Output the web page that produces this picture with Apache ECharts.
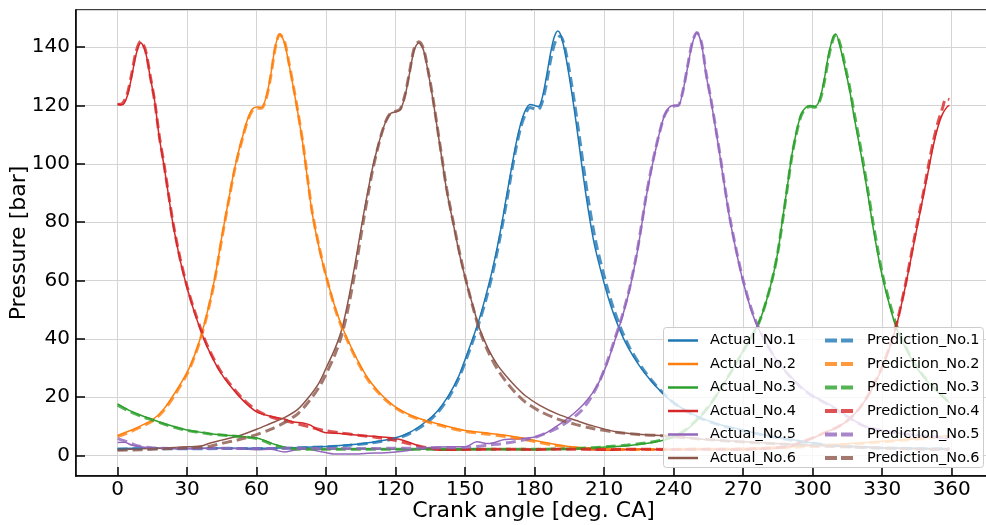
<!DOCTYPE html>
<html><head><meta charset="utf-8">
<script src="https://cdn.jsdelivr.net/npm/echarts@6/dist/echarts.min.js"></script>
<style>html,body{margin:0;padding:0;background:#fff}#c{width:986px;height:525px}</style>
</head><body><div id="c"></div>
<script>
const xTicks = [0,30,60,90,120,150,180,210,240,270,300,330,360];
const yTicks = [0,20,40,60,80,100,120,140];
const actualNames = ['Actual_No.1','Actual_No.2','Actual_No.3','Actual_No.4','Actual_No.5','Actual_No.6'];
const predNames = ['Prediction_No.1','Prediction_No.2','Prediction_No.3','Prediction_No.4','Prediction_No.5','Prediction_No.6'];
const colors = ['#1f77b4','#ff7f0e','#2ca02c','#d62728','#9467bd','#8c564b'];

const actualNo1 = [[0,2.4],[15,2.5],[30,2.4],[45,2.6],[60,2.5],[75,2.7],[90,3.1],[100,3.7],[110,4.6],[120,6.1],[126,7.9],[133,11.6],[138,15.2],[143,20.8],[147,26.8],[150,33],[153,39.5],[156,46.5],[159,55],[162,64.5],[165,76],[168,89.5],[170,98.5],[172,107],[174,113.8],[176,118.3],[178,120.3],[180,120],[181.5,119.6],[183,121.8],[185,129.5],[187,138.5],[188.5,143.5],[190,145.5],[191.5,143.5],[193.5,136.5],[196,124.5],[198,113.5],[200,101.5],[202,90],[204,80],[206,71.5],[210,59],[213,51],[216.5,43.5],[220,37.5],[225,31],[230,25.8],[235,21.5],[240,18],[250,13.5],[260,10.6],[270,8.7],[280,7],[290,5.6],[300,4.3],[310,3.5],[320,3],[330,2.7],[345,2.5],[359,2.4]];
const predNo1 = [[0,2.2],[15,2.4],[30,2.3],[45,2.4],[60,2.4],[75,2.6],[90,3],[100,3.5],[110,4.4],[120,5.8],[126,7.5],[133,11],[138,14.6],[143,20],[147,26],[150,32],[153,38.5],[156,45.5],[159,53.5],[162,63],[165,74.5],[168,87.5],[170,97],[172,105.5],[174,112.5],[176,117],[178,119.3],[180,118.8],[181.5,118.6],[183,120.5],[185,127],[187,136],[189,142],[191,143.8],[192.5,141.5],[194.5,134],[197,122],[199,111],[201,99.5],[203,88.5],[205,79],[207,71],[211,58.5],[214,50.5],[217.5,43],[221,37],[226,30.5],[231,25.3],[236,21],[241,17.5],[250,13.3],[260,10.4],[270,8.5],[280,6.8],[290,5.4],[300,4.2],[310,3.4],[320,2.9],[330,2.6],[345,2.4],[359,2.3]];

const actualNo2 = [[0,6.9],[5,8.4],[10,10.2],[15,12.2],[20,16],[25,21.8],[30,28.5],[33,34],[36,41],[39,50],[42,61],[45,75],[48,88],[50,96.5],[52,103.5],[54,109.5],[56,115],[58,118.6],[60,119.5],[62,119.3],[64,122.5],[66,130],[68,140],[70,144.4],[72,141.5],[74,134],[76,125.5],[78,116.5],[80,106.5],[82,94.5],[84,83],[87,71],[90,61.5],[94,50.5],[97,44],[100,38.5],[104,32],[108,26.5],[112,22.5],[116,19.2],[120,16.6],[126,14],[133,12],[140,10.5],[150,8.6],[160,7.7],[168,6.9],[175,6],[180,5.2],[188,4],[196,3],[204,2.4],[215,2.2],[230,2.1],[245,2.3],[260,2.2],[275,2.5],[290,3],[305,3.6],[320,4.3],[335,5.2],[350,6.2],[359,6.9]];
const predNo2 = [[0,6.5],[5,8],[10,9.8],[15,11.8],[20,15.5],[25,21.2],[30,28],[33,33.5],[36,40.5],[39,49.5],[42,60.5],[45,74.5],[48,87.5],[50,96],[52,103],[54,109],[56,114.5],[58,118],[60,119],[62,119],[64,122],[66,129.5],[68,139.5],[70,144.4],[72,142],[74,134.5],[76,126],[78,117],[80,107],[82,95],[84,83.5],[87,71.5],[90,61.5],[94,50],[97,43.5],[100,38],[104,31.5],[108,26],[112,22],[116,18.8],[120,16.3],[126,13.7],[133,11.7],[140,10.2],[150,8.3],[160,7.3],[168,6.5],[175,5.6],[180,4.8],[188,3.6],[196,2.8],[204,2.3],[215,2.1],[230,2.1],[245,2.2],[260,2.2],[275,2.4],[290,2.8],[305,3.4],[320,4.1],[335,5],[350,6],[359,6.6]];

const actualNo3 = [[0,17.7],[5,15.5],[10,13.8],[15,12.4],[20,11],[25,9.8],[30,8.8],[35,8.1],[40,7.5],[47,7],[54,6.5],[60,6],[64,5],[68,3.8],[72,2.9],[76,2.4],[80,2.2],[90,2.2],[105,2.3],[120,2.2],[135,2.2],[150,2.3],[165,2.2],[180,2.2],[195,2.3],[205,2.6],[212,3],[220,3.4],[228,4.1],[234,5],[240,6.3],[245,8.5],[250,12],[255,16.5],[260,22.4],[265,29],[270,36],[274,41.5],[277,46],[280,53],[283,62],[285,70],[287,81],[289,92],[291,103],[293,111],[295,117],[297,119.3],[299,120],[301,119.6],[303,122],[305,129],[307,138],[309,143.8],[310,144.4],[312,139.5],[314,132.5],[316,125],[318,115.5],[320,107],[322,98],[324,88.5],[326,78.5],[328,69.5],[330,61.5],[333,52],[336,44],[340,37],[345,30],[350,25],[355,21],[359,18]];
const predNo3 = [[0,17.3],[5,15.2],[10,13.5],[15,12.2],[20,10.8],[25,9.6],[30,8.6],[35,8],[40,7.4],[47,6.9],[54,6.4],[60,5.8],[64,4.7],[68,3.5],[72,2.7],[76,2.3],[80,2.2],[90,2.2],[105,2.2],[120,2.2],[135,2.2],[150,2.2],[165,2.2],[180,2.2],[195,2.3],[205,2.7],[212,3.1],[220,3.6],[228,4.3],[234,5.2],[240,6.6],[245,8.8],[250,12.3],[255,16.8],[260,22.6],[265,29],[270,35.8],[274,41.3],[277,46],[280,53],[283,62],[285,70],[287,80.5],[289,91.5],[291,102.5],[293,110.5],[295,116.5],[297,119],[299,119.6],[301,119.4],[303,121.5],[305,128],[307,137],[309,143.3],[310,144.2],[312,140.5],[314,133.5],[316,126],[318,117],[320,108.5],[322,99.5],[324,90],[326,80],[328,71],[330,62.5],[333,53],[336,45],[340,37.5],[345,30.3],[350,25.2],[355,21.2],[359,18.2]];

const actualNo4 = [[0,120.5],[2,120.2],[4,122.8],[6,129.5],[8,137.5],[10,141.5],[12,138.5],[14,130],[16,121.5],[18,109],[20,99.5],[22,89],[24,79],[27,67],[30,57.5],[33,49.5],[37,40.5],[40,35],[44,29],[48,24.5],[54,19],[60,15],[66,13.5],[72,12.5],[76,11.5],[80,11.2],[83,10.5],[86,9],[90,7.8],[96,7.6],[104,7],[112,6.5],[119,6],[126,4.5],[133,2.5],[140,1.8],[150,2],[165,2.2],[180,2],[195,2.3],[210,1.8],[225,2.2],[240,2],[255,2.2],[270,2],[280,2.3],[290,3],[295,4.5],[300,6],[305,7.8],[310,9.5],[315,12],[320,16],[325,22],[330,30],[333,36.5],[336,44],[340,58],[344,74],[348,90],[350,98],[352,106],[354,112.5],[356,117],[358,119.5],[359,120]];
const predNo4 = [[0,120.3],[2,120.6],[4,123.5],[6,130.5],[8,138.5],[10,142],[12,139],[14,130.5],[16,121.5],[18,109.5],[20,100],[22,89.5],[24,79.5],[27,67.5],[30,58],[33,50],[37,41],[40,35.5],[44,29.5],[48,25],[54,19.5],[60,15.5],[66,13.3],[72,12],[78,10.8],[84,9.6],[90,8.5],[96,7.8],[104,7],[112,6.2],[119,5.3],[126,4],[133,2.8],[140,2.1],[150,2.1],[165,2.2],[180,2.1],[195,2.2],[210,2.1],[225,2.2],[240,2.1],[255,2.2],[270,2.2],[280,2.5],[290,3.2],[295,4.6],[300,6.1],[305,7.8],[310,9.5],[315,12],[320,16],[325,22.2],[330,30.5],[333,37],[336,44.5],[340,58.5],[344,75],[348,91],[350,99.5],[352,107.5],[354,114],[356,119],[357.5,122.3],[359,122]];

const actualNo5 = [[0,4.5],[3,4.6],[6,3.6],[10,3],[15,2.6],[20,2.5],[30,2.3],[40,2.5],[50,2.4],[60,2],[66,2.2],[72,1.2],[76,1.8],[81,2.4],[87,1.5],[94,0.5],[101,0.5],[108,0.8],[114,0.9],[120,1.2],[126,1.8],[131,2.4],[138,2.9],[144,3],[150,3],[155,4.7],[160,4.1],[167,5.5],[174,5.8],[180,6.4],[185,7.8],[189,9.8],[193,12],[197,14.5],[201,17.5],[205,21.5],[208,25.5],[211,31],[214,38],[218,48],[221,57],[224,68.5],[226,78],[228,88],[230,96.5],[232,104],[234,111],[236,116.5],[238,119.3],[240,120],[242,120],[244,125],[246,133],[248,141],[250,145],[252,141],[254,130.5],[256,122],[258,112.5],[260,102.5],[262,92],[264,82],[267,70],[270,59.5],[273,51],[276,44.5],[280,38.5],[285,32],[290,27.5],[295,23.5],[300,20.5],[307,17.6],[315,13.5],[322,10.2],[330,8.6],[340,7.4],[350,6.5],[359,5.8]];
const predNo5 = [[0,5.8],[4,4.8],[8,3.5],[15,2.7],[30,2.4],[45,2.5],[60,2.4],[75,2.5],[90,2.4],[105,2.4],[120,2.5],[135,2.6],[145,2.7],[150,2.8],[155,3.1],[160,3.6],[165,4],[170,4.6],[175,5.3],[180,6.2],[185,7.7],[190,9.5],[195,12],[200,15.3],[204,19.5],[208,25.5],[211,31.5],[214,38.5],[218,48.5],[221,57.5],[224,69],[226,78.5],[228,88.5],[230,97],[232,104.5],[234,111],[236,116.5],[238,119],[240,119.8],[242,120],[244,125],[246,133.5],[248,141.5],[250,145],[252,141.5],[254,131],[256,122.5],[258,113],[260,103],[262,92.5],[264,82.5],[267,70.5],[270,60],[273,51.5],[276,45],[280,38.5],[285,32],[290,27.3],[295,23.3],[300,20.3],[307,17.3],[315,13.3],[322,10.2],[330,8.6],[340,7.4],[350,6.6],[359,6]];

const actualNo6 = [[0,2],[10,2.3],[20,2.6],[30,3],[36,3.3],[40,4.3],[45,5.3],[50,6.3],[55,7.5],[60,9],[66,11],[72,13],[78,16],[83,20.5],[87,25],[90,30],[94,37],[97,44],[100,55],[103,68],[106,82],[108,90.5],[110,98.5],[112,105],[114,110.5],[116,115],[118,117.3],[120,117.8],[122,118.5],[124,123],[126,131],[128,139],[130,141.5],[132,139],[134,131.5],[136,122.5],[138,112],[140,101.5],[142,91],[145,79],[148,67.5],[151,58],[154,49.5],[156,44],[160,36.5],[164,31],[168,27],[172,23.5],[176,20.5],[182,17.3],[190,14.2],[198,12],[205,10.2],[215,8.2],[225,7.3],[235,6.9],[250,5.8],[265,5],[280,4.3],[300,3.5],[320,2.9],[340,2.4],[359,2.1]];
const predNo6 = [[0,1.8],[10,2],[20,2.3],[30,2.7],[36,2.9],[40,3.2],[45,4.2],[50,5],[55,6],[60,7.2],[66,9],[72,11.3],[78,14.5],[83,19],[87,23.5],[90,28],[94,35],[97,42],[100,52.5],[103,65.5],[106,80],[108,89],[110,97.5],[112,104.5],[114,110.5],[116,115],[118,117.5],[120,118],[122,118.8],[124,123.5],[126,131.5],[128,139.5],[130,141.8],[132,139.5],[134,132],[136,123],[138,112.5],[140,102],[142,91.5],[145,79.5],[148,68],[151,58],[154,49],[156,43.5],[160,35.5],[164,29.5],[168,25],[172,21.3],[176,18.3],[182,15.3],[190,12.5],[198,10.6],[205,9.3],[215,8],[225,7.2],[235,6.8],[250,5.8],[265,4.9],[280,4.2],[300,3.4],[320,2.8],[340,2.3],[359,2]];

const actuals = [actualNo1, actualNo2, actualNo3, actualNo4, actualNo5, actualNo6];
const preds = [predNo1, predNo2, predNo3, predNo4, predNo5, predNo6];

const FONT = 'DejaVu Sans';
const chart = echarts.init(document.getElementById('c'), null, {renderer: 'canvas'});

const series = [];
actuals.forEach((d, i) => series.push({
  name: actualNames[i], type: 'line', data: d, symbol: 'none', showSymbol: false,
  smooth: 0.3, silent: true, z: 2, animation: false,
  lineStyle: {color: colors[i], width: 1.5}, itemStyle: {color: colors[i]}
}));
preds.forEach((d, i) => series.push({
  name: predNames[i], type: 'line', data: d, symbol: 'none', showSymbol: false,
  smooth: 0.3, silent: true, z: 3, animation: false,
  lineStyle: {color: colors[i], width: 3, type: [10, 5], opacity: 0.8},
  itemStyle: {color: colors[i], opacity: 0.8}
}));

const axisLineStyle = {color: '#000', width: 1.5};
const solidIcon = 'path://M0,0H30V2.5H0Z';
const dashIcon = 'path://M0,0H12V4H0Z M16,0H28V4H16Z';

const option = {
  animation: false,
  backgroundColor: '#fff',
  grid: {left: 76, top: 10, width: 915, height: 466, show: true, borderColor: '#000', borderWidth: 1.5,
    backgroundColor: 'transparent', containLabel: false, outerBoundsMode: 'none'},
  xAxis: {
    type: 'value', min: -17.95, max: 376.95, splitNumber: 13, minInterval: 30, maxInterval: 30,
    axisLine: {show: true, onZero: false, lineStyle: axisLineStyle},
    axisTick: {show: true, inside: true, length: 9, lineStyle: axisLineStyle},
    axisLabel: {showMinLabel: false, showMaxLabel: false, fontSize: 20, color: '#000', fontFamily: FONT, margin: 4,
      formatter: v => xTicks.includes(v) ? String(v) : ''},
    splitLine: {show: true, lineStyle: {color: '#d4d4d4', width: 1}},
    name: 'Crank angle [deg. CA]', nameLocation: 'middle', nameGap: 24, nameMoveOverlap: false,
    nameTextStyle: {fontSize: 22, color: '#000', fontFamily: FONT}
  },
  yAxis: {
    type: 'value', min: -7, max: 152.7, splitNumber: 8, minInterval: 20, maxInterval: 20,
    axisLine: {show: true, onZero: false, lineStyle: axisLineStyle},
    axisTick: {show: true, inside: true, length: 9, lineStyle: axisLineStyle},
    axisLabel: {showMinLabel: false, showMaxLabel: false, fontSize: 20, color: '#000', fontFamily: FONT, margin: 6,
      formatter: v => yTicks.includes(v) ? String(v) : ''},
    splitLine: {show: true, lineStyle: {color: '#d4d4d4', width: 1}},
    name: 'Pressure [bar]', nameLocation: 'middle', nameGap: 46, nameMoveOverlap: false,
    nameTextStyle: {fontSize: 22, color: '#000', fontFamily: FONT}
  },
  graphic: [{
    type: 'rect', left: 663, top: 327, z: 10, silent: true,
    shape: {width: 320, height: 140, r: 3},
    style: {fill: 'rgba(255,255,255,0.8)', stroke: '#cccccc', lineWidth: 1}
  }],
  legend: [
    {
      orient: 'vertical', left: 668, top: 333, itemWidth: 30, itemHeight: 14, itemGap: 8.5, padding: 0, z: 20,
      selectedMode: false, itemStyle: {borderWidth: 0},
      textStyle: {fontSize: 14.5, color: '#000', fontFamily: FONT, padding: [0, 0, 0, 7]},
      data: actualNames.map((n, i) => ({name: n, icon: solidIcon, itemStyle: {color: colors[i], borderWidth: 0}}))
    },
    {
      orient: 'vertical', left: 825, top: 333, itemWidth: 28, itemHeight: 14, itemGap: 8.5, padding: 0, z: 20,
      selectedMode: false, itemStyle: {borderWidth: 0},
      textStyle: {fontSize: 14.5, color: '#000', fontFamily: FONT, padding: [0, 0, 0, 9]},
      data: predNames.map((n, i) => ({name: n, icon: dashIcon, itemStyle: {color: colors[i], opacity: 0.8, borderWidth: 0}}))
    }
  ],
  series: series
};
chart.setOption(option);
</script>
</body></html>
